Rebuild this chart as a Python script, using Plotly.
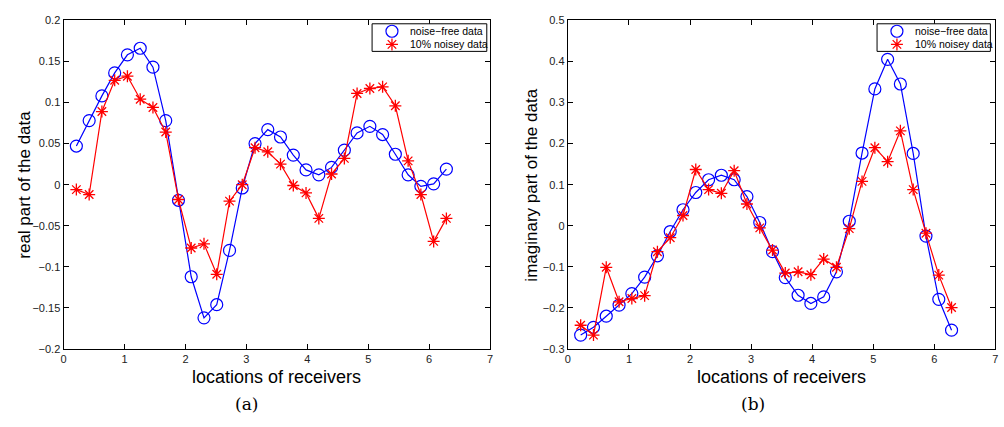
import plotly.graph_objects as go

# receiver locations (30 receivers on (0, 2*pi])
locations = [0.209, 0.419, 0.628, 0.838, 1.047, 1.257, 1.466, 1.676, 1.885, 2.094,
             2.304, 2.513, 2.723, 2.932, 3.142, 3.351, 3.560, 3.770, 3.979, 4.189,
             4.398, 4.608, 4.817, 5.027, 5.236, 5.445, 5.655, 5.864, 6.074, 6.283]

real_clean = [0.047, 0.078, 0.108, 0.136, 0.158, 0.166, 0.143, 0.078, -0.019, -0.112,
              -0.162, -0.146, -0.080, -0.004, 0.050, 0.067, 0.058, 0.036, 0.018, 0.012,
              0.021, 0.042, 0.063, 0.071, 0.061, 0.037, 0.012, -0.002, 0.001, 0.019]
real_noisy = [-0.006, -0.012, 0.089, 0.127, 0.132, 0.104, 0.094, 0.064, -0.018, -0.077,
              -0.072, -0.109, -0.020, 0.000, 0.045, 0.040, 0.025, -0.001, -0.010, -0.041,
              0.013, 0.032, 0.111, 0.117, 0.119, 0.096, 0.029, -0.012, -0.069, -0.041]

imag_clean = [-0.266, -0.247, -0.220, -0.193, -0.165, -0.125, -0.073, -0.014, 0.039, 0.081,
              0.112, 0.123, 0.112, 0.071, 0.008, -0.063, -0.126, -0.169, -0.189, -0.173,
              -0.112, 0.011, 0.177, 0.333, 0.405, 0.345, 0.176, -0.025, -0.179, -0.254]
imag_noisy = [-0.242, -0.266, -0.101, -0.185, -0.177, -0.170, -0.063, -0.029, 0.025, 0.137,
              0.088, 0.079, 0.134, 0.053, -0.005, -0.059, -0.115, -0.112, -0.119, -0.081,
              -0.101, -0.007, 0.108, 0.190, 0.156, 0.231, 0.088, -0.018, -0.120, -0.199]

series_names = ["noise\u2212free data", "10% noisey data"]
x_ticks = [0, 1, 2, 3, 4, 5, 6, 7]
real_ticks = [-0.2, -0.15, -0.1, -0.05, 0, 0.05, 0.1, 0.15, 0.2]
imag_ticks = [-0.3, -0.2, -0.1, 0, 0.1, 0.2, 0.3, 0.4, 0.5]

W, H = 1004, 427
BLUE, RED = "#0000ff", "#ff0000"
SANS = "Liberation Sans, Arial, Helvetica, sans-serif"
SERIF = "DejaVu Serif, Liberation Serif, serif"

CIRCLE = dict(symbol="circle-open", size=12, color=BLUE, line=dict(width=1.2, color=BLUE))
STAR = dict(symbol="asterisk-open", size=10, color=RED, line=dict(width=1.3, color=RED))

fig = go.Figure()


def add_pair(clean, noisy, xa, ya):
    fig.add_trace(go.Scatter(
        x=locations, y=clean, mode="lines+markers", name=series_names[0],
        xaxis=xa, yaxis=ya, showlegend=False,
        line=dict(color=BLUE, width=1.2), marker=CIRCLE,
    ))
    fig.add_trace(go.Scatter(
        x=locations, y=noisy, mode="lines+markers", name=series_names[1],
        xaxis=xa, yaxis=ya, showlegend=False,
        line=dict(color=RED, width=1.2), marker=STAR,
    ))


add_pair(real_clean, real_noisy, "x", "y")
add_pair(imag_clean, imag_noisy, "x2", "y2")

# Compact boxed legends, drawn on a full-page overlay in pixel units
legend_boxes = [(371.3, 486.7, 18.3, 46.7, 391.3, 407.3), (879.3, 993.3, 18.3, 46.7, 899.3, 915.7)]
row_y = [26.0, 39.5]
for x0, x1, y0, y1, sx, tx in legend_boxes:
    fig.add_trace(go.Scatter(
        x=[x0, x1, x1, x0, x0], y=[y0, y0, y1, y1, y0], mode="lines",
        fill="toself", fillcolor="white", line=dict(color="black", width=1),
        xaxis="x3", yaxis="y3", showlegend=False, hoverinfo="skip",
    ))
    fig.add_trace(go.Scatter(x=[sx], y=[row_y[0]], mode="markers", marker=CIRCLE,
                             xaxis="x3", yaxis="y3", showlegend=False, hoverinfo="skip"))
    fig.add_trace(go.Scatter(x=[sx], y=[row_y[1]], mode="markers", marker=STAR,
                             xaxis="x3", yaxis="y3", showlegend=False, hoverinfo="skip"))
    for name, ry in zip(series_names, row_y):
        fig.add_annotation(
            text=name, x=tx, y=ry, xref="x3", yref="y3", xanchor="left", yanchor="middle",
            showarrow=False, font=dict(family=SANS, size=10.5, color="black"),
        )

axis_common = dict(
    showline=True, linecolor="black", linewidth=1.3, mirror="ticks",
    ticks="inside", ticklen=5, tickwidth=1, tickcolor="black",
    showgrid=False, zeroline=False,
    tickfont=dict(family=SANS, size=11, color="#222222"),
)

y_lo, y_hi = 1 - 353 / H, 1 - 14.7 / H

fig.update_layout(
    width=W, height=H,
    margin=dict(l=0, r=0, t=0, b=0),
    paper_bgcolor="white", plot_bgcolor="rgba(0,0,0,0)",
    showlegend=False,
    xaxis=dict(domain=[61 / W, 490 / W], range=[0, 7], tickvals=x_ticks, anchor="y", **axis_common),
    yaxis=dict(domain=[y_lo, y_hi], range=[-0.2, 0.2], tickvals=real_ticks, anchor="x", **axis_common),
    xaxis2=dict(domain=[568.3 / W, 998.3 / W], range=[0, 7], tickvals=x_ticks, anchor="y2", **axis_common),
    yaxis2=dict(domain=[y_lo, y_hi], range=[-0.3, 0.5], tickvals=imag_ticks, anchor="x2", **axis_common),
    xaxis3=dict(domain=[0, 1], range=[0, W], visible=False, fixedrange=True),
    yaxis3=dict(domain=[0, 1], range=[H, 0], visible=False, fixedrange=True),
)

labels = [
    dict(text="locations of receivers", x=275.5 / W, y=1 - 382 / H, size=18, family=SANS, angle=0),
    dict(text="locations of receivers", x=783.3 / W, y=1 - 382 / H, size=18, family=SANS, angle=0),
    dict(text="real part of the data", x=22 / W, y=1 - 184 / H, size=17, family=SANS, angle=-90),
    dict(text="imaginary part of the data", x=532 / W, y=1 - 184 / H, size=17, family=SANS, angle=-90),
    dict(text="(a)", x=245 / W, y=1 - 409 / H, size=17, family=SERIF, angle=0),
    dict(text="(b)", x=755 / W, y=1 - 409 / H, size=17, family=SERIF, angle=0),
]
for lb in labels:
    fig.add_annotation(
        text=lb["text"], x=lb["x"], y=lb["y"], xref="paper", yref="paper",
        xanchor="center", yanchor="middle", showarrow=False, textangle=lb["angle"],
        font=dict(family=lb["family"], size=lb["size"], color="black"),
    )

fig.write_html("out.html")
